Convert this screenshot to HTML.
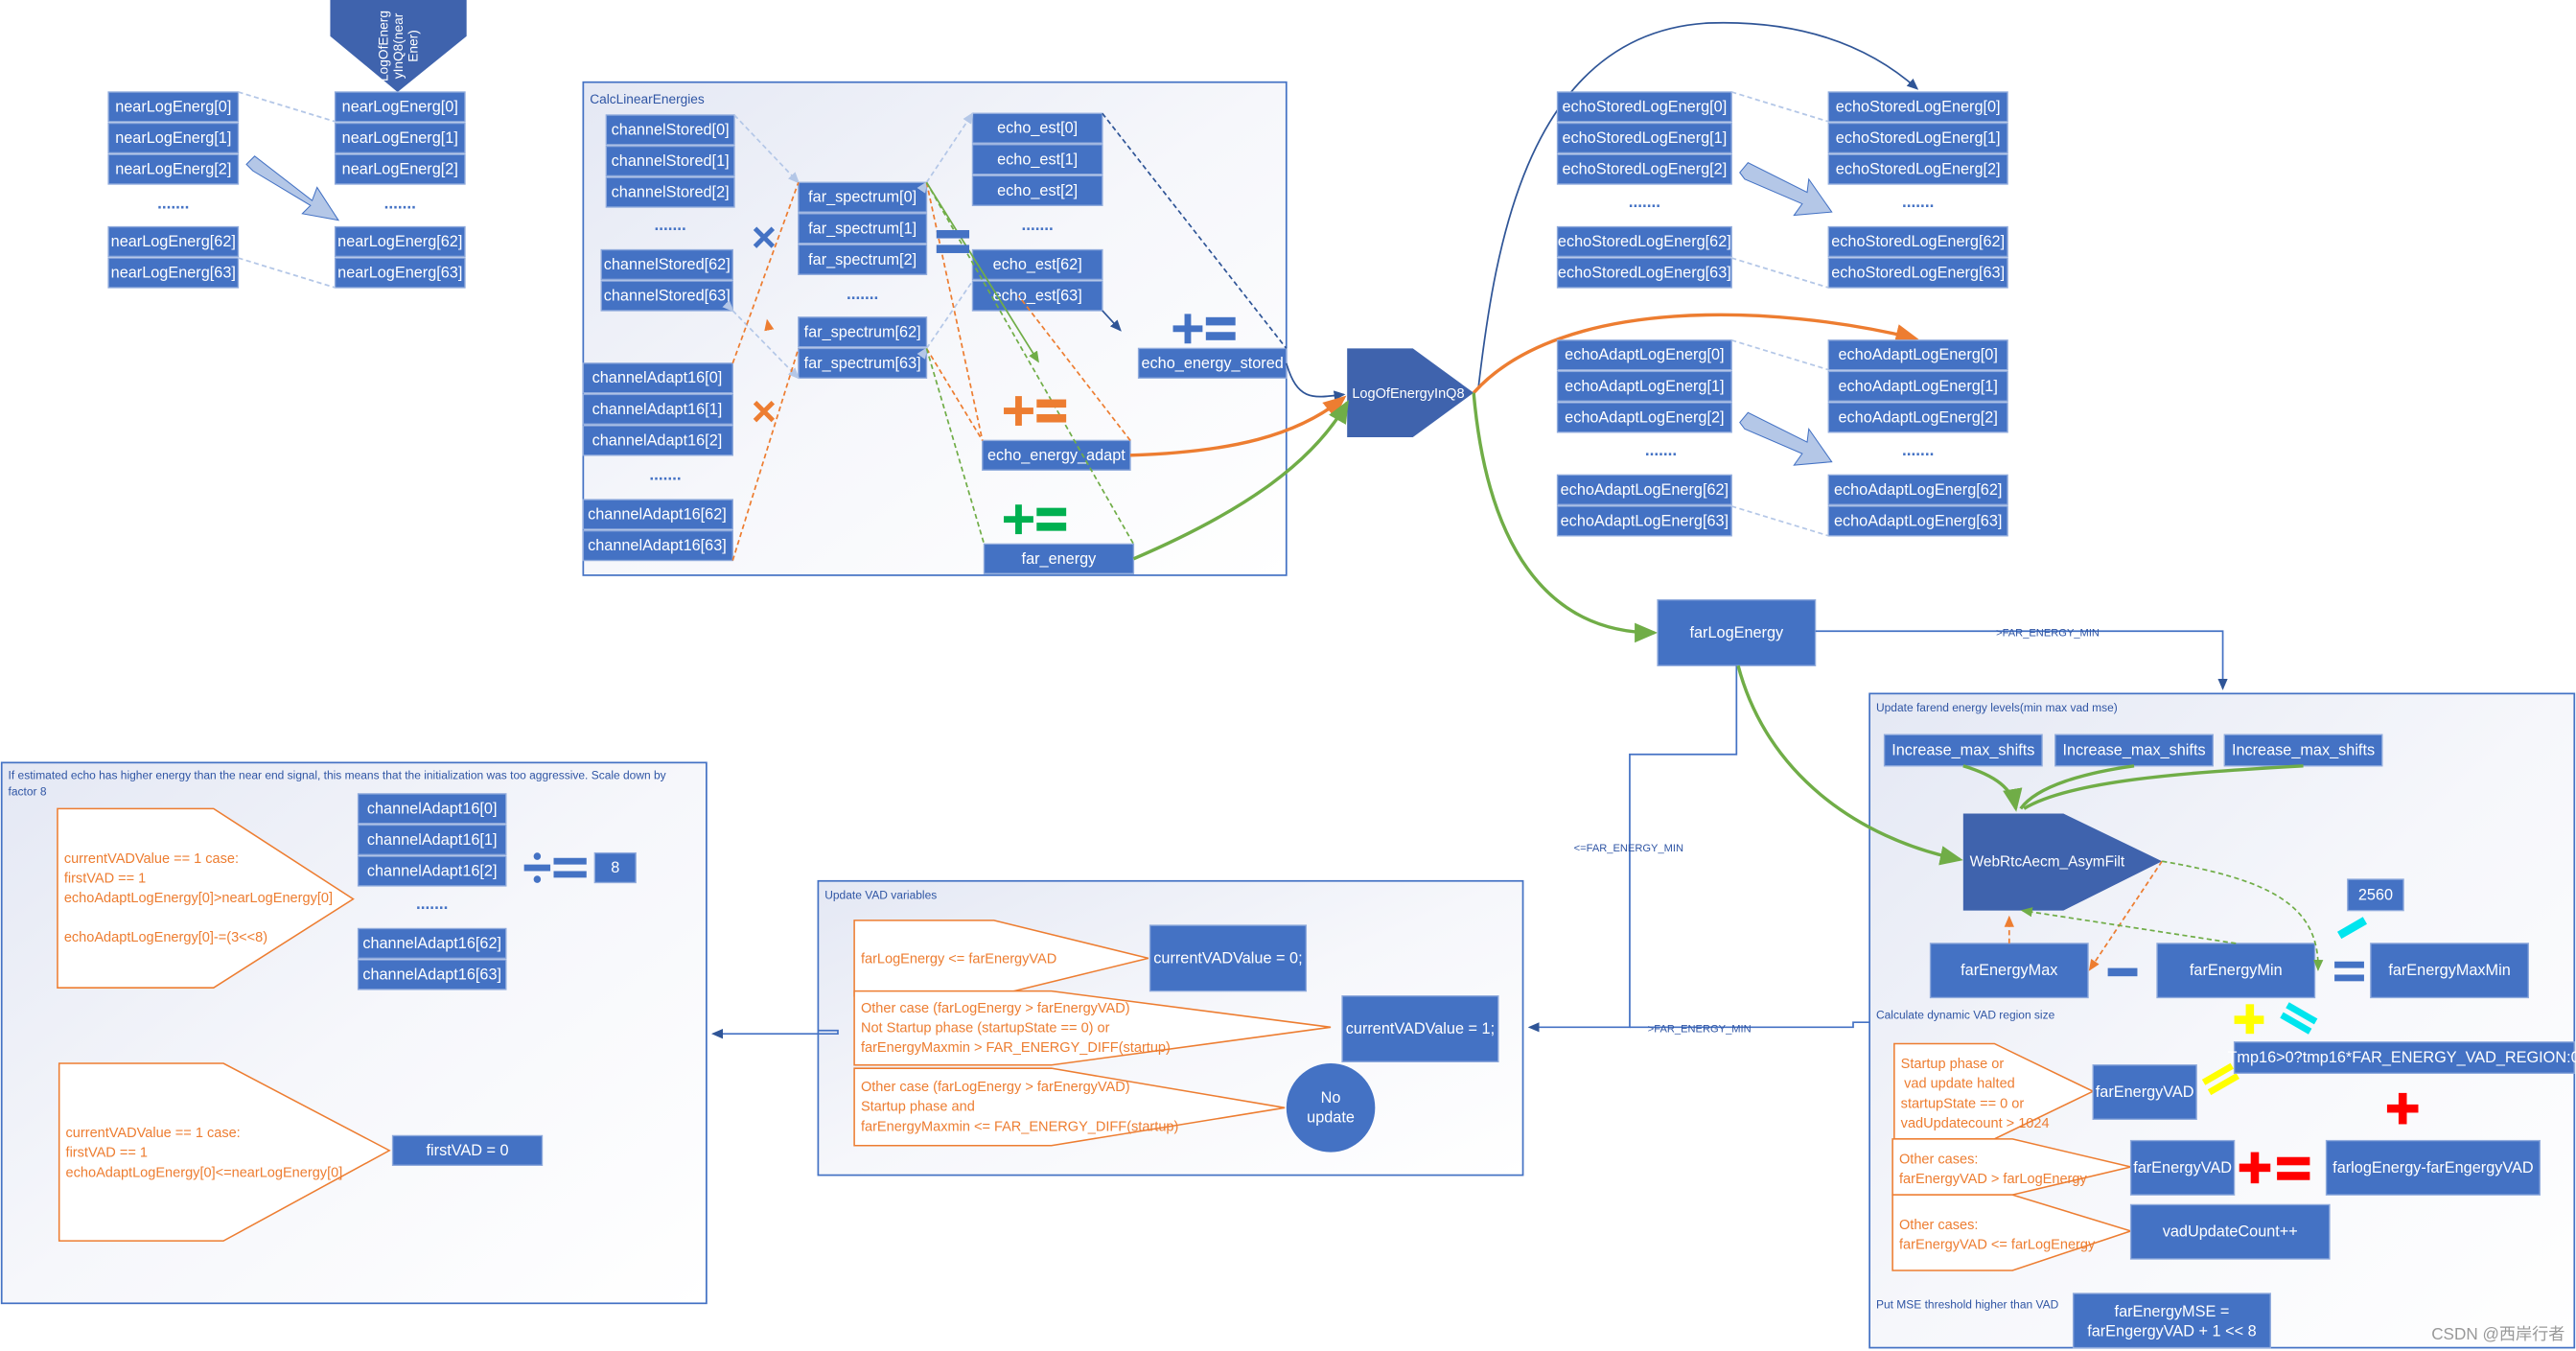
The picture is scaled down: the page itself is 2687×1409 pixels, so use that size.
<!DOCTYPE html>
<html><head><meta charset="utf-8"><style>
html,body{margin:0;padding:0;background:#fff;}
svg{display:block;}
text{font-family:"Liberation Sans","Noto Sans CJK SC",sans-serif;}
.b{fill:#4472C4;stroke:#8FAADC;stroke-width:0.8;}
.t{fill:#fff;font-size:9.5px;text-anchor:middle;dominant-baseline:central;}
.s{fill:#2F55A4;font-size:7px;}
.o{fill:#ED7D31;font-size:8.5px;}
.d{fill:#4472C4;font-size:10px;text-anchor:middle;font-weight:bold;}
.po{fill:#fff;stroke:#ED7D31;stroke-width:0.9;}
</style></head><body>
<svg width="2687" height="1409" viewBox="0 0 1568 822" preserveAspectRatio="none" xmlns="http://www.w3.org/2000/svg">
<defs>
<linearGradient id="g" x1="0" y1="0" x2="1" y2="1"><stop offset="0" stop-color="#E4E8F4"/><stop offset="0.5" stop-color="#F6F7FB"/><stop offset="1" stop-color="#fff"/></linearGradient>
<marker id="ab" markerWidth="8" markerHeight="8" refX="6" refY="3" orient="auto"><path d="M0,0L7,3L0,6z" fill="#2F5597"/></marker>
<marker id="ao" markerWidth="8" markerHeight="8" refX="6" refY="3" orient="auto"><path d="M0,0L7,3L0,6z" fill="#ED7D31"/></marker>
<marker id="ag" markerWidth="8" markerHeight="8" refX="6" refY="3" orient="auto"><path d="M0,0L7,3L0,6z" fill="#70AD47"/></marker>
<marker id="al" markerWidth="8" markerHeight="8" refX="6" refY="3" orient="auto"><path d="M0,0L7,3L0,6z" fill="#B4C7E7"/></marker>
</defs>

<!-- containers -->
<rect x="355" y="50" width="428" height="300" fill="url(#g)" stroke="#4472C4" stroke-width="1"/>
<text x="359" y="63" class="s" style="font-size:8px">CalcLinearEnergies</text>
<rect x="1138" y="422" width="429" height="398" fill="url(#g)" stroke="#4472C4" stroke-width="1"/>
<text x="1142" y="433" class="s">Update farend energy levels(min max vad mse)</text>
<text x="1142" y="620" class="s">Calculate dynamic VAD region size</text>
<text x="1142" y="796" class="s">Put MSE threshold higher than VAD</text>
<rect x="1" y="464" width="429" height="329" fill="url(#g)" stroke="#4472C4" stroke-width="1"/>
<text x="5" y="474" class="s">If estimated echo has higher energy than the near end signal, this means that the initialization was too aggressive. Scale down by</text>
<text x="5" y="484" class="s">factor 8</text>
<rect x="498" y="536" width="429" height="179" fill="url(#g)" stroke="#4472C4" stroke-width="1"/>
<text x="502" y="547" class="s">Update VAD variables</text>

<!-- near log energy -->
<polygon points="201,0 284,0 284,22 242,56 201,22" fill="#3F63AD"/>
<text transform="translate(236,28) rotate(-90)" fill="#fff" font-size="8" text-anchor="middle">LogOfEnerg</text>
<text transform="translate(245,28) rotate(-90)" fill="#fff" font-size="8" text-anchor="middle">yInQ8(near</text>
<text transform="translate(254,28) rotate(-90)" fill="#fff" font-size="8" text-anchor="middle">Ener)</text>
<g>
<rect class="b" x="66" y="56" width="79" height="18"/><text class="t" x="105.5" y="65">nearLogEnerg[0]</text>
<rect class="b" x="66" y="75" width="79" height="18"/><text class="t" x="105.5" y="84">nearLogEnerg[1]</text>
<rect class="b" x="66" y="94" width="79" height="18"/><text class="t" x="105.5" y="103">nearLogEnerg[2]</text>
<text class="d" x="105.5" y="127">.......</text>
<rect class="b" x="66" y="138" width="79" height="18"/><text class="t" x="105.5" y="147">nearLogEnerg[62]</text>
<rect class="b" x="66" y="157" width="79" height="18"/><text class="t" x="105.5" y="166">nearLogEnerg[63]</text>
<rect class="b" x="204" y="56" width="79" height="18"/><text class="t" x="243.5" y="65">nearLogEnerg[0]</text>
<rect class="b" x="204" y="75" width="79" height="18"/><text class="t" x="243.5" y="84">nearLogEnerg[1]</text>
<rect class="b" x="204" y="94" width="79" height="18"/><text class="t" x="243.5" y="103">nearLogEnerg[2]</text>
<text class="d" x="243.5" y="127">.......</text>
<rect class="b" x="204" y="138" width="79" height="18"/><text class="t" x="243.5" y="147">nearLogEnerg[62]</text>
<rect class="b" x="204" y="157" width="79" height="18"/><text class="t" x="243.5" y="166">nearLogEnerg[63]</text>
</g>
<path d="M145,56 L204,74 M145,157 L204,175" stroke="#B4C7E7" stroke-width="1" stroke-dasharray="3,2" fill="none"/>
<polygon points="150,100 155,95 190,122 193,114 206,134 184,130 189,125 154,104" fill="#B4C7E7" stroke="#4472C4" stroke-width="0.6"/>

<!-- Calc linear energies -->
<g>
<rect class="b" x="369" y="70" width="78" height="18"/><text class="t" x="408" y="79">channelStored[0]</text>
<rect class="b" x="369" y="89" width="78" height="18"/><text class="t" x="408" y="98">channelStored[1]</text>
<rect class="b" x="369" y="108" width="78" height="18"/><text class="t" x="408" y="117">channelStored[2]</text>
<text class="d" x="408" y="140">.......</text>
<rect class="b" x="366" y="152" width="80" height="18"/><text class="t" x="406" y="161">channelStored[62]</text>
<rect class="b" x="366" y="171" width="80" height="18"/><text class="t" x="406" y="180">channelStored[63]</text>
<rect class="b" x="355" y="221" width="91" height="18"/><text class="t" x="400" y="230">channelAdapt16[0]</text>
<rect class="b" x="355" y="240" width="91" height="18"/><text class="t" x="400" y="249">channelAdapt16[1]</text>
<rect class="b" x="355" y="259" width="91" height="18"/><text class="t" x="400" y="268">channelAdapt16[2]</text>
<text class="d" x="405" y="292">.......</text>
<rect class="b" x="355" y="304" width="91" height="18"/><text class="t" x="400" y="313">channelAdapt16[62]</text>
<rect class="b" x="355" y="323" width="91" height="18"/><text class="t" x="400" y="332">channelAdapt16[63]</text>
<rect class="b" x="486" y="111" width="78" height="18"/><text class="t" x="525" y="120">far_spectrum[0]</text>
<rect class="b" x="486" y="130" width="78" height="18"/><text class="t" x="525" y="139">far_spectrum[1]</text>
<rect class="b" x="486" y="149" width="78" height="18"/><text class="t" x="525" y="158">far_spectrum[2]</text>
<text class="d" x="525" y="182">.......</text>
<rect class="b" x="486" y="193" width="78" height="18"/><text class="t" x="525" y="202">far_spectrum[62]</text>
<rect class="b" x="486" y="212" width="78" height="18"/><text class="t" x="525" y="221">far_spectrum[63]</text>
<rect class="b" x="592" y="69" width="79" height="18"/><text class="t" x="631.5" y="78">echo_est[0]</text>
<rect class="b" x="592" y="88" width="79" height="18"/><text class="t" x="631.5" y="97">echo_est[1]</text>
<rect class="b" x="592" y="107" width="79" height="18"/><text class="t" x="631.5" y="116">echo_est[2]</text>
<text class="d" x="631.5" y="140">.......</text>
<rect class="b" x="592" y="152" width="79" height="18"/><text class="t" x="631.5" y="161">echo_est[62]</text>
<rect class="b" x="592" y="171" width="79" height="18"/><text class="t" x="631.5" y="180">echo_est[63]</text>
<rect class="b" x="693" y="212" width="90" height="18"/><text class="t" x="738" y="221">echo_energy_stored</text>
<rect class="b" x="598" y="268" width="90" height="18"/><text class="t" x="643" y="277">echo_energy_adapt</text>
<rect class="b" x="599" y="331" width="91" height="18"/><text class="t" x="644.5" y="340">far_energy</text>
</g>
<g fill="none" stroke-width="1" stroke-dasharray="3,2">
<path d="M447,70 L486,111 M446,189 L486,230 M564,111 L592,69 M564,212 L592,171" stroke="#B4C7E7" marker-mid="url(#al)"/>
<path d="M446,221 L486,111 M446,341 L486,212" stroke="#ED7D31"/>
<path d="M564,111 L598,268 M564,212 L598,268 M688,268 L620,180" stroke="#ED7D31"/>
<path d="M564,111 L690,331 M564,212 L599,331" stroke="#70AD47"/>
<path d="M671,69 L783,212" stroke="#2F5597"/>
</g>
<path d="M564,111 L632,220" stroke="#70AD47" stroke-width="1" fill="none" marker-end="url(#ag)"/>
<path d="M671,189 L682,201" stroke="#2F5597" stroke-width="1" fill="none" marker-end="url(#ab)"/>
<path d="M468,200 L467,195" stroke="#ED7D31" marker-end="url(#ao)"/>
<text x="465" y="153" fill="#4472C4" font-size="26" font-weight="bold" text-anchor="middle">×</text>
<text x="465" y="259" fill="#ED7D31" font-size="26" font-weight="bold" text-anchor="middle">×</text>
<rect x="570" y="140" width="20" height="5" fill="#4472C4"/><rect x="570" y="149" width="20" height="5" fill="#4472C4"/>
<g fill="#4472C4"><rect x="714" y="198" width="18" height="4"/><rect x="721" y="191" width="4" height="18"/><rect x="734" y="193" width="18" height="5"/><rect x="734" y="202" width="18" height="5"/></g>
<g fill="#ED7D31"><rect x="611" y="248" width="18" height="4"/><rect x="618" y="241" width="4" height="18"/><rect x="631" y="243" width="18" height="5"/><rect x="631" y="252" width="18" height="5"/></g>
<g fill="#00B050"><rect x="611" y="314" width="18" height="4"/><rect x="618" y="307" width="4" height="18"/><rect x="631" y="309" width="18" height="5"/><rect x="631" y="318" width="18" height="5"/></g>

<!-- LogOfEnergyInQ8 -->
<polygon points="820,212 860,212 897,239 860,266 820,266" fill="#3F63AD"/>
<text x="823" y="242" fill="#fff" font-size="8.5">LogOfEnergyInQ8</text>
<path d="M783,221 C790,245 800,242 818,240" stroke="#2F5597" stroke-width="1" fill="none" marker-end="url(#ab)"/>
<path d="M688,277 C750,275 790,265 818,242" stroke="#ED7D31" stroke-width="2" fill="none" marker-end="url(#ao)"/>
<path d="M690,340 C760,310 800,280 820,245" stroke="#70AD47" stroke-width="2" fill="none" marker-end="url(#ag)"/>
<path d="M900,235 C910,150 930,20 1040,14 C1100,12 1140,30 1167,54" stroke="#2F5597" stroke-width="1" fill="none" marker-end="url(#ab)"/>
<path d="M897,239 C950,180 1080,185 1166,206" stroke="#ED7D31" stroke-width="2" fill="none" marker-end="url(#ao)"/>
<path d="M897,239 C905,330 940,385 1007,385" stroke="#70AD47" stroke-width="2" fill="none" marker-end="url(#ag)"/>

<!-- echo stored / adapt -->
<g>
<rect class="b" x="948" y="56" width="106" height="18"/><text class="t" x="1001" y="65">echoStoredLogEnerg[0]</text>
<rect class="b" x="948" y="75" width="106" height="18"/><text class="t" x="1001" y="84">echoStoredLogEnerg[1]</text>
<rect class="b" x="948" y="94" width="106" height="18"/><text class="t" x="1001" y="103">echoStoredLogEnerg[2]</text>
<text class="d" x="1001" y="126">.......</text>
<rect class="b" x="948" y="138" width="106" height="18"/><text class="t" x="1001" y="147">echoStoredLogEnerg[62]</text>
<rect class="b" x="948" y="157" width="106" height="18"/><text class="t" x="1001" y="166">echoStoredLogEnerg[63]</text>
<rect class="b" x="1113" y="56" width="109" height="18"/><text class="t" x="1167.5" y="65">echoStoredLogEnerg[0]</text>
<rect class="b" x="1113" y="75" width="109" height="18"/><text class="t" x="1167.5" y="84">echoStoredLogEnerg[1]</text>
<rect class="b" x="1113" y="94" width="109" height="18"/><text class="t" x="1167.5" y="103">echoStoredLogEnerg[2]</text>
<text class="d" x="1167.5" y="126">.......</text>
<rect class="b" x="1113" y="138" width="109" height="18"/><text class="t" x="1167.5" y="147">echoStoredLogEnerg[62]</text>
<rect class="b" x="1113" y="157" width="109" height="18"/><text class="t" x="1167.5" y="166">echoStoredLogEnerg[63]</text>
<rect class="b" x="948" y="207" width="106" height="18"/><text class="t" x="1001" y="216">echoAdaptLogEnerg[0]</text>
<rect class="b" x="948" y="226" width="106" height="18"/><text class="t" x="1001" y="235">echoAdaptLogEnerg[1]</text>
<rect class="b" x="948" y="245" width="106" height="18"/><text class="t" x="1001" y="254">echoAdaptLogEnerg[2]</text>
<text class="d" x="1011" y="277">.......</text>
<rect class="b" x="948" y="289" width="106" height="18"/><text class="t" x="1001" y="298">echoAdaptLogEnerg[62]</text>
<rect class="b" x="948" y="308" width="106" height="18"/><text class="t" x="1001" y="317">echoAdaptLogEnerg[63]</text>
<rect class="b" x="1113" y="207" width="109" height="18"/><text class="t" x="1167.5" y="216">echoAdaptLogEnerg[0]</text>
<rect class="b" x="1113" y="226" width="109" height="18"/><text class="t" x="1167.5" y="235">echoAdaptLogEnerg[1]</text>
<rect class="b" x="1113" y="245" width="109" height="18"/><text class="t" x="1167.5" y="254">echoAdaptLogEnerg[2]</text>
<text class="d" x="1167.5" y="277">.......</text>
<rect class="b" x="1113" y="289" width="109" height="18"/><text class="t" x="1167.5" y="298">echoAdaptLogEnerg[62]</text>
<rect class="b" x="1113" y="308" width="109" height="18"/><text class="t" x="1167.5" y="317">echoAdaptLogEnerg[63]</text>
</g>
<path d="M1054,56 L1113,74 M1054,157 L1113,175 M1054,207 L1113,225 M1054,308 L1113,326" stroke="#B4C7E7" stroke-width="1" stroke-dasharray="3,2" fill="none"/>
<polygon points="1059,105 1064,99 1100,117 1101,109 1115,129 1092,131 1097,124 1062,109" fill="#B4C7E7" stroke="#4472C4" stroke-width="0.6"/>
<polygon points="1059,257 1064,251 1100,269 1101,261 1115,281 1092,283 1097,276 1062,261" fill="#B4C7E7" stroke="#4472C4" stroke-width="0.6"/>

<!-- farLogEnergy -->
<rect class="b" x="1009" y="365" width="96" height="40"/><text class="t" x="1057" y="385">farLogEnergy</text>
<path d="M1105,384 L1353,384 L1353,419" stroke="#4472C4" stroke-width="1" fill="none" marker-end="url(#ab)"/>
<text x="1215" y="387" class="s" style="font-size:6.5px">&gt;FAR_ENERGY_MIN</text>
<path d="M1057,405 L1057,459 L992,459 L992,625 L931,625" stroke="#4472C4" stroke-width="1" fill="none" marker-end="url(#ab)"/>
<text x="958" y="518" class="s" style="font-size:6.5px">&lt;=FAR_ENERGY_MIN</text>
<path d="M1138,622 L1128,622 L1128,625 L992,625" stroke="#4472C4" stroke-width="1" fill="none"/>
<text x="1003" y="628" class="s" style="font-size:6.5px">&gt;FAR_ENERGY_MIN</text>
<path d="M1058,405 C1075,470 1130,510 1193,523" stroke="#70AD47" stroke-width="2" fill="none" marker-end="url(#ag)"/>

<!-- right container contents -->
<rect class="b" x="1147" y="447" width="96" height="19"/><text class="t" x="1195" y="456.5">Increase_max_shifts</text>
<rect class="b" x="1251" y="447" width="96" height="19"/><text class="t" x="1299" y="456.5">Increase_max_shifts</text>
<rect class="b" x="1354" y="447" width="96" height="19"/><text class="t" x="1402" y="456.5">Increase_max_shifts</text>
<path d="M1195,466 C1215,472 1225,480 1227,492" stroke="#70AD47" stroke-width="2" fill="none" marker-end="url(#ag)"/>
<path d="M1299,466 C1270,470 1240,478 1230,492" stroke="#70AD47" stroke-width="2" fill="none"/>
<path d="M1402,466 C1330,470 1260,475 1232,492" stroke="#70AD47" stroke-width="2" fill="none"/>
<polygon points="1195,495 1256,495 1316,524 1256,554 1195,554" fill="#3F63AD"/>
<text x="1199" y="527" fill="#fff" font-size="9">WebRtcAecm_AsymFilt</text>
<rect class="b" x="1429" y="535" width="34" height="19"/><text class="t" x="1446" y="544.5">2560</text>
<rect class="b" x="1175" y="574" width="96" height="33"/><text class="t" x="1223" y="590.5">farEnergyMax</text>
<rect class="b" x="1313" y="574" width="96" height="33"/><text class="t" x="1361" y="590.5">farEnergyMin</text>
<rect class="b" x="1443" y="574" width="96" height="33"/><text class="t" x="1491" y="590.5">farEnergyMaxMin</text>
<path d="M1223,574 L1223,558" stroke="#ED7D31" stroke-dasharray="3,2" fill="none" marker-end="url(#ao)"/>
<path d="M1316,524 L1272,590" stroke="#ED7D31" stroke-dasharray="3,2" fill="none" marker-end="url(#ao)"/>
<path d="M1361,574 L1231,554" stroke="#70AD47" stroke-dasharray="3,2" fill="none" marker-end="url(#ag)"/>
<path d="M1316,524 C1380,535 1412,550 1411,590" stroke="#70AD47" stroke-dasharray="3,2" fill="none" marker-end="url(#ag)"/>
<rect x="1283" y="589" width="18" height="5" fill="#4472C4"/>
<rect x="1421" y="585" width="18" height="4" fill="#4472C4"/><rect x="1421" y="593" width="18" height="4" fill="#4472C4"/>
<rect x="1423" y="562" width="18" height="5" fill="#00E5EE" transform="rotate(-30 1432 565)"/>
<g fill="#FFFF00"><rect x="1360" y="618" width="18" height="5"/><rect x="1367" y="611" width="5" height="18"/></g>
<g fill="#00E5EE" transform="rotate(30 1399 620)"><rect x="1389" y="614" width="20" height="4"/><rect x="1389" y="621" width="20" height="4"/></g>
<g fill="#FFFF00" transform="rotate(-30 1352 657)"><rect x="1342" y="651" width="20" height="4"/><rect x="1342" y="658" width="20" height="4"/></g>
<rect class="b" x="1360" y="634" width="207" height="19"/><text class="t" x="1463" y="643.5">Tmp16&gt;0?tmp16*FAR_ENERGY_VAD_REGION:0</text>
<g fill="#FF0000"><rect x="1453" y="672" width="19" height="5"/><rect x="1460" y="665" width="5" height="19"/></g>
<polygon class="po" points="1153,635 1214,635 1274,664 1214,693 1153,693"/>
<text class="o" x="1157" y="650">Startup phase or</text>
<text class="o" x="1159" y="662">vad update halted</text>
<text class="o" x="1157" y="674">startupState == 0 or</text>
<text class="o" x="1157" y="686">vadUpdatecount &gt; 1024</text>
<rect class="b" x="1274" y="648" width="63" height="33"/><text class="t" x="1305.5" y="664.5">farEnergyVAD</text>
<polygon class="po" points="1152,693 1225,693 1297,710 1225,727 1152,727"/>
<text class="o" x="1156" y="708">Other cases:</text>
<text class="o" x="1156" y="720">farEnergyVAD &gt;  farLogEnergy</text>
<rect class="b" x="1297" y="694" width="63" height="33"/><text class="t" x="1328.5" y="710.5">farEnergyVAD</text>
<g fill="#FF0000"><rect x="1363" y="708" width="19" height="5"/><rect x="1370" y="701" width="5" height="19"/><rect x="1386" y="704" width="20" height="5"/><rect x="1386" y="713" width="20" height="5"/></g>
<rect class="b" x="1416" y="694" width="130" height="33"/><text class="t" x="1481" y="710.5">farlogEnergy-farEngergyVAD</text>
<polygon class="po" points="1152,727 1225,727 1297,749 1225,773 1152,773"/>
<text class="o" x="1156" y="748">Other cases:</text>
<text class="o" x="1156" y="760">farEnergyVAD &lt;=  farLogEnergy</text>
<rect class="b" x="1297" y="733" width="121" height="33"/><text class="t" x="1357.5" y="749.5">vadUpdateCount++</text>
<rect class="b" x="1262" y="787" width="120" height="33"/>
<text class="t" x="1322" y="798">farEnergyMSE =</text><text class="t" x="1322" y="810">farEngergyVAD + 1 &lt;&lt; 8</text>
<text x="1480" y="815" fill="#999" font-size="10">CSDN @西岸行者</text>

<!-- Update VAD variables -->
<polygon class="po" points="520,560 605,560 699,583 605,606 520,606"/>
<text class="o" x="524" y="586">farLogEnergy &lt;= farEnergyVAD</text>
<rect class="b" x="700" y="563" width="95" height="40"/><text class="t" x="747.5" y="583">currentVADValue = 0;</text>
<polygon class="po" points="520,603 640,603 810,625 640,648 520,648"/>
<text class="o" x="524" y="616">Other case (farLogEnergy &gt; farEnergyVAD)</text>
<text class="o" x="524" y="628">Not Startup phase (startupState == 0) or</text>
<text class="o" x="524" y="640">farEnergyMaxmin &gt; FAR_ENERGY_DIFF(startup)</text>
<rect class="b" x="817" y="606" width="95" height="40"/><text class="t" x="864.5" y="626">currentVADValue = 1;</text>
<polygon class="po" points="520,650 640,650 782,674 640,697 520,697"/>
<text class="o" x="524" y="664">Other case (farLogEnergy &gt; farEnergyVAD)</text>
<text class="o" x="524" y="676">Startup phase and</text>
<text class="o" x="524" y="688">farEnergyMaxmin &lt;= FAR_ENERGY_DIFF(startup)</text>
<circle cx="810" cy="674" r="27" fill="#4472C4"/>
<text class="t" x="810" y="668">No</text><text class="t" x="810" y="680">update</text>
<path d="M498,627 L510,627 L510,629 L434,629" stroke="#4472C4" stroke-width="1" fill="none" marker-end="url(#ab)"/>

<!-- left container contents -->
<polygon class="po" points="35,492 130,492 215,547 130,601 35,601"/>
<text class="o" x="39" y="525">currentVADValue == 1 case:</text>
<text class="o" x="39" y="537">firstVAD == 1</text>
<text class="o" x="39" y="549">echoAdaptLogEnergy[0]&gt;nearLogEnergy[0]</text>
<text class="o" x="39" y="573">echoAdaptLogEnergy[0]-=(3&lt;&lt;8)</text>
<rect class="b" x="218" y="483" width="90" height="18"/><text class="t" x="263" y="492">channelAdapt16[0]</text>
<rect class="b" x="218" y="502" width="90" height="18"/><text class="t" x="263" y="511">channelAdapt16[1]</text>
<rect class="b" x="218" y="521" width="90" height="18"/><text class="t" x="263" y="530">channelAdapt16[2]</text>
<text class="d" x="263" y="553">.......</text>
<rect class="b" x="218" y="565" width="90" height="18"/><text class="t" x="263" y="574">channelAdapt16[62]</text>
<rect class="b" x="218" y="584" width="90" height="18"/><text class="t" x="263" y="593">channelAdapt16[63]</text>
<g fill="#4472C4"><rect x="319" y="526" width="16" height="4"/><circle cx="327" cy="521" r="2.2"/><circle cx="327" cy="535" r="2.2"/><rect x="337" y="522" width="20" height="4"/><rect x="337" y="530" width="20" height="4"/></g>
<rect class="b" x="362" y="519" width="25" height="18"/><text class="t" x="374.5" y="528">8</text>
<polygon class="po" points="36,647 136,647 237,700 136,755 36,755"/>
<text class="o" x="40" y="692">currentVADValue == 1 case:</text>
<text class="o" x="40" y="704">firstVAD == 1</text>
<text class="o" x="40" y="716">echoAdaptLogEnergy[0]&lt;=nearLogEnergy[0]</text>
<rect class="b" x="239" y="691" width="91" height="18"/><text class="t" x="284.5" y="700">firstVAD = 0</text>
</svg>
</body></html>
